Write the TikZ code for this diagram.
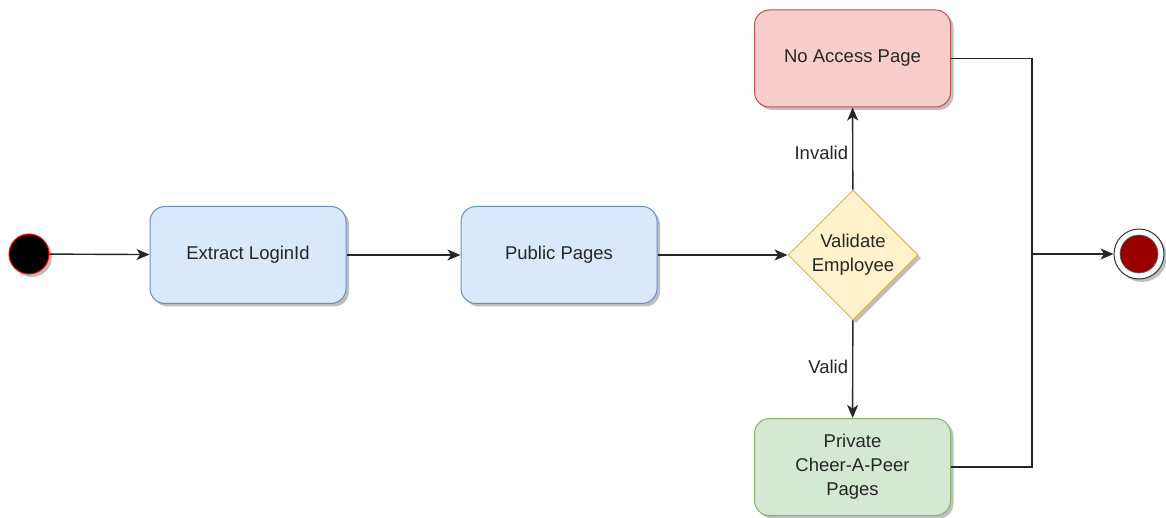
\documentclass[tikz,border=0pt]{standalone}
\usepackage{fontspec}
\setmainfont{Liberation Sans}
\usetikzlibrary{shapes.geometric,arrows.meta,shadows}
\definecolor{bluef}{HTML}{DAE8FC}\definecolor{blued}{HTML}{6C8EBF}
\definecolor{redf}{HTML}{F8CECC}\definecolor{redd}{HTML}{B85450}
\definecolor{yelf}{HTML}{FFF2CC}\definecolor{yeld}{HTML}{D6B656}
\definecolor{grnf}{HTML}{D5E8D4}\definecolor{grnd}{HTML}{82B366}
\definecolor{endf}{HTML}{990000}
\begin{document}
\begin{tikzpicture}[x=1pt,y=-1pt,
  font=\fontsize{18.5}{24}\selectfont,
  shad/.style={drop shadow={shadow xshift=3pt,shadow yshift=-3pt,fill=black,opacity=0.25}},
  box/.style={rounded corners=15pt,minimum width=196pt,minimum height=97pt,line width=1pt,align=center,shad,text=black!85},
  conn/.style={line width=1.4pt,draw=black!85},
  arr/.style={conn,-{Stealth[length=13pt,width=11pt,inset=3.5pt]}},
  lbl/.style={fill=white,inner sep=2pt,text=black!85}]
\useasboundingbox (0,0) rectangle (1166,518);
\node[circle,fill=black,draw=red,line width=1pt,minimum size=40pt,inner sep=0pt,shad] (start) at (29,254) {};
\node[box,fill=bluef,draw=blued] (extract) at (248,255) {Extract LoginId};
\node[box,fill=bluef,draw=blued] (public) at (559,255) {Public Pages};
\node[diamond,aspect=1,minimum size=130pt,inner sep=0pt,fill=yelf,draw=yeld,line width=1pt,align=center,shad,text=black!85] (valid) at (853,255) {Validate\\Employee};
\node[box,fill=redf,draw=redd] (noacc) at (852.5,58.5) {No Access Page};
\node[box,fill=grnf,draw=grnd] (priv) at (852.5,467) {Private\\Cheer-A-Peer\\Pages};
\node[circle,draw=black!80,line width=1pt,fill=white,minimum size=50pt,inner sep=0pt,shad] (endo) at (1139,254) {};
\node[circle,fill=endf,draw=black!60,line width=0.6pt,minimum size=38pt,inner sep=0pt] (endi) at (1139,254) {};
\coordinate (j) at (1032,254);
\draw[arr] (start) -- (extract);
\draw[arr] (extract) -- (public);
\draw[arr] (public) -- (valid);
\draw[arr] (valid) -- node[lbl,left=2pt,pos=0.45] (linv) {Invalid} (noacc);
\draw[arr] (valid) -- node[lbl,left=2pt,pos=0.48] (lval) {Valid} (priv);
\draw[conn] (noacc.east) -| (j);
\draw[conn] (priv.east) -| (j);
\draw[arr] (j) -- (endo);
\end{tikzpicture}
\end{document}
